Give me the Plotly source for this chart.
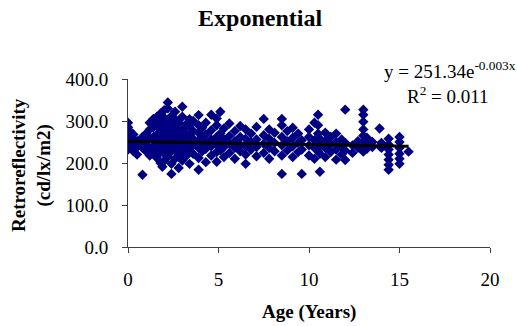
import numpy as np
import plotly.graph_objects as go

# Sign age (years) and measured retroreflectivity (cd/lx/m2), grouped by age
age_groups = [0.0, 0.1, 0.3, 0.5, 0.8, 1.0, 1.2, 1.4, 1.6, 1.8, 1.9, 2.0, 2.2, 2.4,
              2.6, 2.8, 3.0, 3.2, 3.4, 3.6, 3.9, 4.1, 4.3, 4.6, 4.9, 5.1, 5.3, 5.6,
              5.9, 6.2, 6.5, 6.8, 7.1, 7.5, 7.8, 8.1, 8.5, 8.8, 9.1, 9.4, 9.6, 10.0,
              10.3, 10.5, 10.6, 10.9, 11.2, 11.5, 11.8, 12.0, 12.4, 12.7, 13.0, 13.2,
              13.5, 13.9, 14.0, 14.4, 15.0, 15.5]
retro_groups = [
    [243, 258, 270, 285, 296, 232],
    [250, 262, 276, 240],
    [228, 246, 255, 268],
    [220, 238, 252],
    [236, 248, 262, 172],
    [244, 255, 270, 228],
    [232, 258, 280, 296, 218],
    [240, 262, 285, 305, 225],
    [212, 236, 250, 268, 290, 310],
    [200, 226, 245, 260, 275, 298, 318],
    [191, 230, 255, 282],
    [205, 222, 240, 252, 266, 288, 308, 326],
    [215, 235, 248, 262, 278, 300, 344, 330],
    [174, 198, 228, 244, 258, 272, 290, 312],
    [210, 232, 250, 268, 284, 304, 322],
    [188, 220, 240, 256, 270, 296],
    [206, 226, 246, 262, 280, 310, 334],
    [216, 238, 252, 270, 292],
    [198, 230, 248, 266, 286, 304],
    [222, 242, 258, 276, 300],
    [184, 212, 236, 254, 272, 290, 314],
    [228, 246, 262, 284],
    [202, 234, 250, 268, 296],
    [218, 240, 256, 278, 315],
    [203, 226, 244, 262, 290, 306],
    [230, 248, 270, 322],
    [214, 238, 256, 282],
    [224, 246, 264, 294],
    [210, 236, 252, 276],
    [228, 244, 262, 288],
    [198, 220, 240, 258, 280],
    [232, 250, 270],
    [216, 238, 256, 286],
    [224, 246, 266, 305],
    [210, 236, 258, 280],
    [228, 248, 272],
    [174, 218, 242, 262, 290, 305],
    [230, 252, 276],
    [214, 240, 260, 284],
    [226, 248, 270],
    [174, 232, 254],
    [218, 242, 262, 280],
    [210, 236, 254, 296],
    [228, 250, 270, 290, 315],
    [179, 222, 240, 258],
    [214, 236, 252, 272],
    [226, 244, 262],
    [208, 232, 250, 270],
    [220, 240, 256],
    [207, 230, 248, 327],
    [224, 242],
    [236, 252],
    [227, 240, 252, 265, 280, 298, 315, 327],
    [234, 248, 260],
    [238, 250],
    [282],
    [236, 248],
    [184, 196, 208, 220, 232, 244, 258],
    [198, 210, 222, 236, 250, 262],
    [227],
]

# Exponential trendline coefficients (y = a * e^(b x))
trend_a = 251.34
trend_b = -0.003
r_squared = 0.011

x_ticks = [0, 5, 10, 15, 20]
y_ticks = [0, 100, 200, 300, 400]

age = [a for a, vals in zip(age_groups, retro_groups) for _ in vals]
retro = [v for vals in retro_groups for v in vals]

trend_x = np.linspace(min(age), max(age), 60)
trend_y = trend_a * np.exp(trend_b * trend_x)

SERIF = "Liberation Serif, Times New Roman, serif"

fig = go.Figure()
fig.add_trace(go.Scatter(
    x=age, y=retro, mode="markers",
    marker=dict(symbol="diamond", size=8, color="#000080", line=dict(width=0)),
    showlegend=False,
))
fig.add_trace(go.Scatter(
    x=trend_x, y=trend_y, mode="lines",
    line=dict(color="black", width=3), showlegend=False,
))

axis_common = dict(
    showgrid=False, zeroline=False, showline=True, linecolor="#404040", linewidth=1,
    ticks="outside", ticklen=5, tickcolor="#404040",
    tickfont=dict(family=SERIF, size=19, color="black"),
)

fig.update_layout(
    width=517, height=326,
    margin=dict(l=128, r=27, t=79, b=79),
    paper_bgcolor="white", plot_bgcolor="white",
    title=dict(text="<b>Exponential</b>", x=0.503, xanchor="center",
               y=1 - 18 / 326, yanchor="middle",
               font=dict(family=SERIF, size=24, color="black")),
    xaxis=dict(range=[0, 20], tickvals=x_ticks, ticktext=[str(t) for t in x_ticks],
               ticklabelstandoff=10, **axis_common),
    yaxis=dict(range=[0, 400], tickvals=y_ticks, ticktext=[f"{t:.1f}" for t in y_ticks],
               ticklabelstandoff=10, **axis_common),
)

def px_x(X):
    return (X - 128) / 362

def px_y(Y):
    return (247 - Y) / 168

annotations = [
    dict(text="<b>Age (Years)</b>", x=px_x(309), y=px_y(312), xanchor="center", yanchor="middle",
         font=dict(family=SERIF, size=19)),
    dict(text="<b>Retroreflectivity</b><br><b>(cd/lx/m2)</b>", x=px_x(31), y=px_y(165),
         xanchor="center", yanchor="middle", textangle=-90,
         font=dict(family=SERIF, size=19)),
    dict(text=f"y = {trend_a:.2f}e<sup>{trend_b:.3f}x</sup>", x=px_x(382), y=px_y(70),
         xanchor="left", yanchor="middle", font=dict(family=SERIF, size=19)),
    dict(text=f"R<sup>2</sup> = {r_squared:.3f}", x=px_x(405), y=px_y(95),
         xanchor="left", yanchor="middle", font=dict(family=SERIF, size=19)),
]
for a in annotations:
    a.update(xref="paper", yref="paper", showarrow=False)
    a["font"]["color"] = "black"
fig.update_layout(annotations=annotations)

fig.write_html("out.html")
